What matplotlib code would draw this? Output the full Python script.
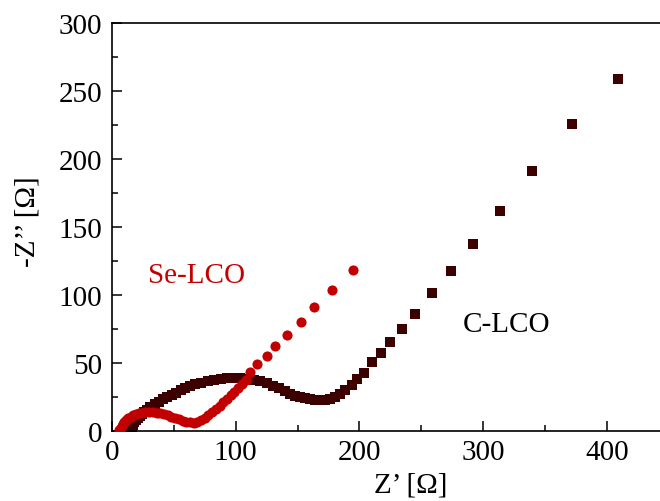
import matplotlib
matplotlib.use("Agg")
import matplotlib.pyplot as plt
from matplotlib.ticker import MultipleLocator

plt.rcParams.update({
    "font.family": "Liberation Serif",
    "font.size": 20,
})

# --- Se-LCO (red circles) ---
se_x = [6, 7, 8, 9, 10, 11.5, 13, 15, 17, 19, 21.5, 24, 27, 30, 33, 36, 39, 42,
        45, 48, 51, 54, 57, 60, 63, 66, 69, 72, 75, 78, 81, 84, 87, 90, 93, 96,
        99, 102, 105, 108, 111.6, 117.5, 125, 132, 141.2, 152.6, 163.3, 177.6,
        194.6]
se_y = [0.5, 2, 3.5, 5, 6.5, 8, 9.3, 10.6, 11.6, 12.4, 13.1, 13.6, 13.9, 14,
        13.9, 13.6, 13.1, 12.4, 11.5, 10.5, 9.5, 8.5, 7.6, 6.9, 6.4, 6.2, 6.6,
        7.8, 9.6, 11.8, 13.9, 16.2, 18.6, 21, 23.6, 26.3, 29, 31.8, 34.6, 37.6,
        43.1, 49.3, 54.9, 62.3, 70.8, 80.4, 91.4, 103.9, 118.4]

# --- C-LCO (dark squares) ---
c_x = [15, 16, 17, 18, 19.5, 21, 22.5, 24.5, 26, 28, 31, 34.8, 38, 41.5, 44.8,
       48.3, 52, 55.8, 59.3, 63, 67.5, 72.2, 77.3, 82.5, 88, 93.3, 98.5, 103.8,
       109, 114.5, 120, 125.3, 130.2, 135.3, 139.5, 144, 148, 152, 156, 160,
       164, 168, 172, 176.3, 180.5, 184.4, 188.4, 193.8, 198.4, 204, 210.2,
       217.2, 225, 234.2, 245.3, 258.5, 273.9, 291.9, 313.7, 339.6, 371.7, 409]
c_y = [0.5, 2.5, 4.5, 6.3, 8, 9.7, 11.2, 12.8, 14.3, 15.7, 17.8, 19.9, 21.6,
       23.2, 24.7, 26.2, 28, 29.8, 31.3, 32.8, 34.2, 35.6, 36.8, 37.8, 38.4,
       38.7, 38.9, 38.7, 38.3, 37.6, 36.5, 35.2, 33.4, 31.4, 29.3, 27.4, 26,
       24.8, 23.9, 23.2, 22.8, 22.7, 23, 23.6, 25, 27, 29.8, 34, 38.2, 42.6,
       50.5, 57.4, 65.2, 75, 86.3, 101.2, 117.9, 137.7, 162, 191.2, 226, 258.8]

red = "#c30000"
dark = "#3d0000"

fig = plt.figure(figsize=(6.6, 5.02), dpi=100)
ax = fig.add_axes([112 / 660, 70 / 502, 548 / 660, 408 / 502])

ax.plot(c_x, c_y, "s", color=dark, markersize=6.5, markeredgewidth=0, zorder=2)
ax.plot(se_x, se_y, "o", color=red, markersize=7.3, markeredgewidth=0, zorder=3)

ax.text(29, 114.7, "Se-LCO", color=red, fontsize=21, va="center", ha="left")
ax.text(283.8, 78.7, "C-LCO", color="black", fontsize=21, va="center", ha="left")

ax.set_xlim(0, 443)
ax.set_ylim(0, 300)
ax.xaxis.set_major_locator(MultipleLocator(100))
ax.xaxis.set_minor_locator(MultipleLocator(50))
ax.yaxis.set_major_locator(MultipleLocator(50))
ax.yaxis.set_minor_locator(MultipleLocator(25))

for s in ["left", "bottom", "top"]:
    ax.spines[s].set_linewidth(1.2)
ax.spines["right"].set_visible(False)

ax.tick_params(which="both", direction="in", top=False, right=False, width=1.1)
ax.tick_params(which="major", length=7, labelsize=21)
ax.tick_params(which="minor", length=4)
ax.tick_params(axis="x", pad=6)
ax.tick_params(axis="y", pad=7)

ax.set_xlabel("Z’ [Ω]", fontsize=21)
ax.xaxis.set_label_coords((411 - 112) / 548, -0.10)
ax.set_ylabel("-Z’’ [Ω]", fontsize=21)
ax.yaxis.set_label_coords(-0.13, 0.515)

fig.savefig("out.png", dpi=100)
